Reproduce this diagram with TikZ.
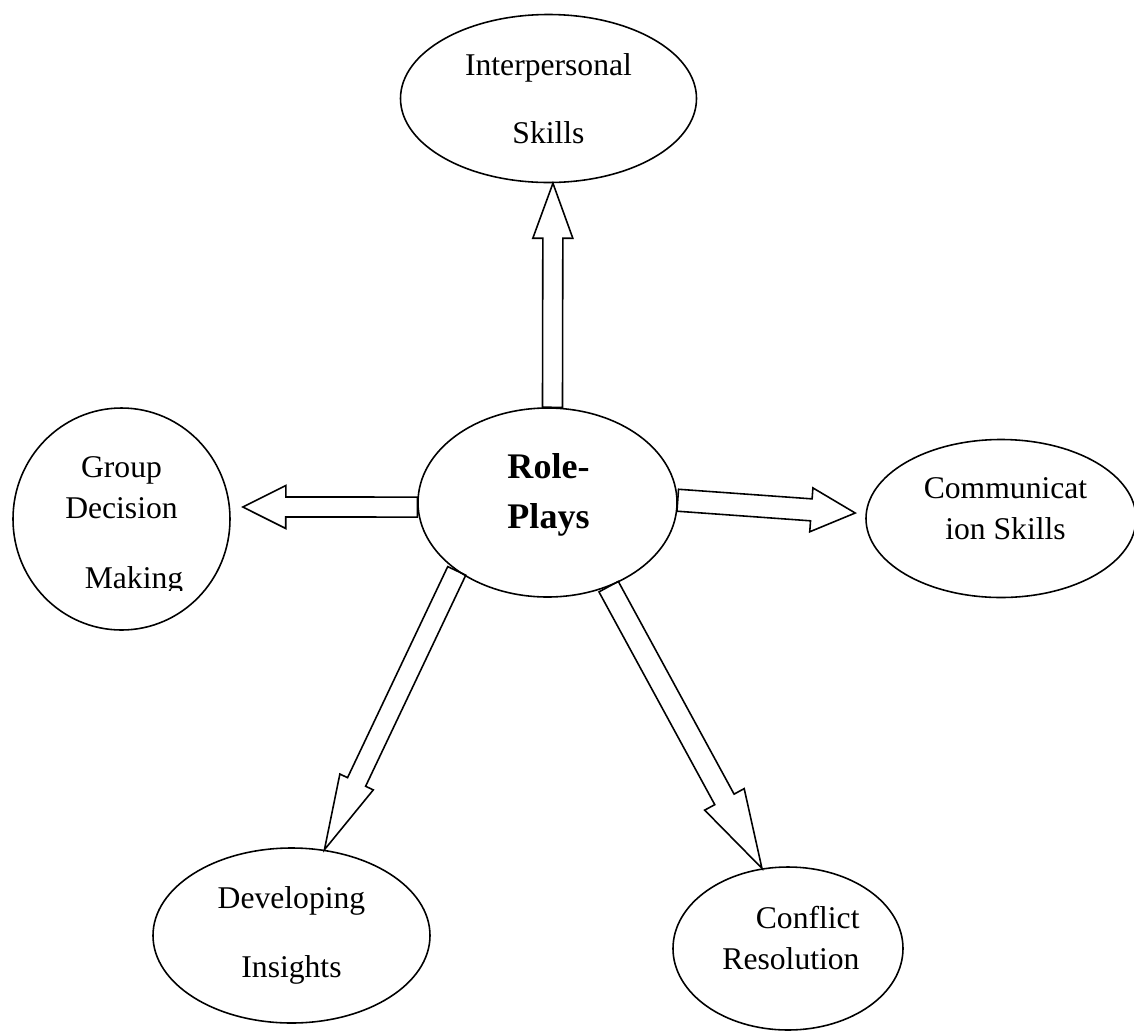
\documentclass[tikz,border=0pt]{standalone}
\usepackage{fontspec}
\setmainfont{Liberation Serif}
\usetikzlibrary{shapes.geometric,calc}
\tikzset{
  bubble/.style={ellipse, draw, line width=0.9pt, inner sep=0pt},
  txt/.style={font=\fontsize{18pt}{23.5pt}\selectfont, align=center, inner sep=0pt},
  fat/.style={draw, line width=0.9pt, line join=miter},
}
% hollow block arrow: tail, tip, half shaft, half head, head length
\newcommand{\fatarrow}[5]{%
  \coordinate (headbase) at ($(#2)!#5!(#1)$);
  \draw[fat] ($(#1)!#3!90:(#2)$) -- ($(headbase)!#3!90:(#2)$) -- ($(headbase)!#4!90:(#2)$)
    -- (#2) -- ($(headbase)!#4!-90:(#2)$) -- ($(headbase)!#3!-90:(#2)$) -- ($(#1)!#3!-90:(#2)$) -- cycle;
}

\begin{document}
\begin{tikzpicture}
\useasboundingbox (0,0) rectangle (22.68,-20.6);
% centre
\node[bubble, minimum width=5.18cm, minimum height=3.78cm] (role) at (10.95,-10.05) {};
\node[txt, font=\fontsize{20.5pt}{28.5pt}\selectfont\bfseries] (roletxt) at ($(role)+(0.02,0.16)$) {Role-\\Plays};
% topics round it
\node[bubble, minimum width=5.92cm, minimum height=3.36cm] (inter) at (10.97,-1.97) {};
\node[txt] (intertxt) at (inter) {Interpersonal\\[15.5pt]Skills};
\node[bubble, minimum width=4.34cm, minimum height=4.44cm] (group) at (2.43,-10.38) {};
\node[txt] (grouptxt) at ($(group)+(0,0.62)$) {Group\\Decision};
\begin{scope}
  \clip ($(group)+(-2.2,-1.42)$) rectangle ($(group)+(2.2,-0.8)$);
  \node[txt, anchor=base] (groupmk) at ($(group)+(0.25,-1.38)$) {Making};
\end{scope}
\node[bubble, minimum width=5.40cm, minimum height=3.16cm] (comm) at (20.02,-10.37) {};
\node[txt] (commtxt) at ($(comm)+(0.09,0.19)$) {Communicat\\ion Skills};
\node[bubble, minimum width=5.54cm, minimum height=3.50cm] (insight) at (5.83,-18.71) {};
\node[txt] (insighttxt) at (insight) {Developing\\[15.5pt]Insights};
\node[bubble, minimum width=4.60cm, minimum height=3.26cm] (conflict) at (15.76,-18.97) {};
\node[txt, align=right] (conflicttxt) at ($(conflict)+(0.06,0.21)$) {Conflict\\Resolution};
% block arrows
\coordinate (gtip) at ($(group.east)+(0.24,0.24)$);
\coordinate (ctip) at ($(comm.west)+(-0.2,0.11)$);
\fatarrow{role.87}{inter.273}{0.2cm}{0.4cm}{1.1cm}
\fatarrow{role.182}{gtip}{0.2cm}{0.43cm}{0.86cm}
\fatarrow{role.1}{ctip}{0.22cm}{0.44cm}{0.88cm}
\fatarrow{role.217}{insight.69}{0.2cm}{0.37cm}{1.5cm}
\fatarrow{role.306}{conflict.108}{0.22cm}{0.45cm}{1.57cm}
\end{tikzpicture}
\end{document}
